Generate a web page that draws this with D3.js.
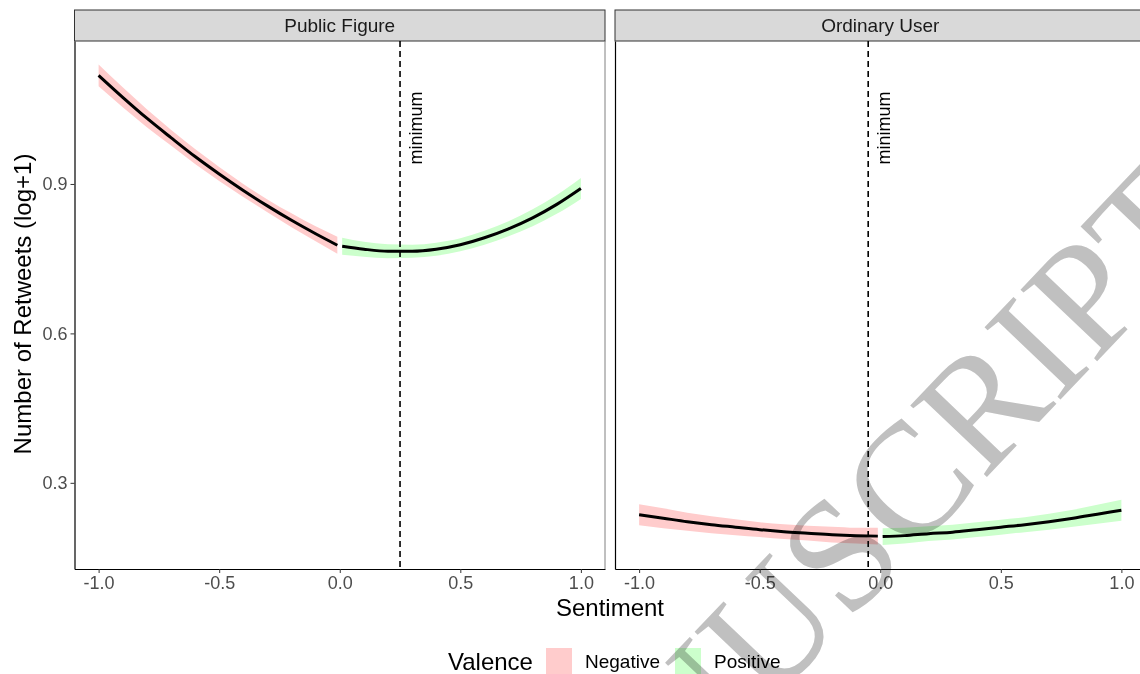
<!DOCTYPE html>
<html>
<head>
<meta charset="utf-8">
<script src="https://cdn.jsdelivr.net/npm/d3@7"></script>
<style>
  body { margin: 0; background: #fff; }
  svg { display: block; font-family: 'Liberation Sans', Arial, sans-serif; }
</style>
</head>
<body>
<div id="chart"></div>
<script>
// values
const panels = ['Public Figure', 'Ordinary User'];
const minima = [0.25, -0.05];

const sentimentNeg = [-1, -0.9, -0.8, -0.7, -0.6, -0.5, -0.4, -0.3, -0.2, -0.1, -0.01];
const sentimentPos = [0.01, 0.1, 0.2, 0.3, 0.4, 0.5, 0.6, 0.7, 0.8, 0.9, 1];

const publicNegFit = [1.118, 1.074, 1.032, 0.993, 0.955, 0.92, 0.887, 0.856, 0.827, 0.8, 0.777];
const publicNegBand = [0.022, 0.02, 0.018, 0.016, 0.015, 0.014, 0.013, 0.013, 0.014, 0.015, 0.017];
const publicPosFit = [0.775, 0.769, 0.765, 0.765, 0.769, 0.778, 0.792, 0.81, 0.832, 0.859, 0.891];
const publicPosBand = [0.017, 0.015, 0.014, 0.013, 0.013, 0.013, 0.014, 0.015, 0.017, 0.019, 0.021];

const ordinaryNegFit = [0.236, 0.229, 0.222, 0.216, 0.211, 0.206, 0.202, 0.199, 0.196, 0.194, 0.193];
const ordinaryNegBand = [0.021, 0.02, 0.018, 0.017, 0.016, 0.015, 0.015, 0.015, 0.016, 0.016, 0.017];
const ordinaryPosFit = [0.192, 0.194, 0.198, 0.201, 0.206, 0.211, 0.216, 0.222, 0.229, 0.237, 0.245];
const ordinaryPosBand = [0.017, 0.016, 0.015, 0.015, 0.015, 0.015, 0.015, 0.016, 0.017, 0.019, 0.021];

const valence = ['Negative', 'Positive'];
const valenceColors = ['#ffcccc', '#ccffcc'];

const xTicks = [-1, -0.5, 0, 0.5, 1];
const yTicks = [0.3, 0.6, 0.9];

const series = [
  [
    { x: sentimentNeg, fit: publicNegFit, band: publicNegBand, v: 0 },
    { x: sentimentPos, fit: publicPosFit, band: publicPosBand, v: 1 },
  ],
  [
    { x: sentimentNeg, fit: ordinaryNegFit, band: ordinaryNegBand, v: 0 },
    { x: sentimentPos, fit: ordinaryPosFit, band: ordinaryPosBand, v: 1 },
  ],
];

const width = 1140,
  height = 674;
const panelLeft = [74.5, 615],
  panelW = 530.5,
  plotTop = 41,
  plotBottom = 569,
  stripTop = 10;
const plotH = plotBottom - plotTop;

const svg = d3
  .select('#chart')
  .append('svg')
  .attr('width', width)
  .attr('height', height);

const x = d3.scaleLinear().domain([-1.1, 1.1]).range([0, panelW]);
const y = d3.scaleLinear().domain([0.127, 1.187]).range([plotH, 0]);

panels.forEach((name, i) => {
  const g = svg.append('g').attr('transform', `translate(${panelLeft[i]},${plotTop})`);

  // strip
  g.append('rect')
    .attr('x', 0)
    .attr('y', stripTop - plotTop)
    .attr('width', panelW)
    .attr('height', plotTop - stripTop)
    .attr('fill', '#d9d9d9')
    .attr('stroke', '#333')
    .attr('stroke-width', 1);
  g.append('text')
    .attr('x', panelW / 2)
    .attr('y', (stripTop - plotTop) / 2 + 6.5)
    .attr('text-anchor', 'middle')
    .attr('font-size', 19)
    .attr('fill', '#1a1a1a')
    .text(name);

  // right panel edge
  g.append('line')
    .attr('x1', panelW)
    .attr('x2', panelW)
    .attr('y1', 0)
    .attr('y2', plotH)
    .attr('stroke', '#808080')
    .attr('stroke-width', 1);

  // ribbons and fits
  series[i].forEach((s) => {
    const pts = s.x.map((d, k) => ({ x: d, fit: s.fit[k], band: s.band[k] }));
    const area = d3
      .area()
      .curve(d3.curveMonotoneX)
      .x((d) => x(d.x))
      .y0((d) => y(d.fit - d.band))
      .y1((d) => y(d.fit + d.band));
    g.append('path').attr('d', area(pts)).attr('fill', valenceColors[s.v]);
  });
  series[i].forEach((s) => {
    const pts = s.x.map((d, k) => ({ x: d, fit: s.fit[k] }));
    const line = d3
      .line()
      .curve(d3.curveMonotoneX)
      .x((d) => x(d.x))
      .y((d) => y(d.fit));
    g.append('path')
      .attr('d', line(pts))
      .attr('fill', 'none')
      .attr('stroke', '#000')
      .attr('stroke-width', 3);
  });

  // minimum marker
  g.append('line')
    .attr('x1', x(minima[i]))
    .attr('x2', x(minima[i]))
    .attr('y1', 0)
    .attr('y2', plotH)
    .attr('stroke', '#000')
    .attr('stroke-width', 1.6)
    .attr('stroke-dasharray', '6,4');
  g.append('text')
    .attr('transform', `translate(${x(minima[i]) + 22},${87}) rotate(-90)`)
    .attr('text-anchor', 'middle')
    .attr('font-size', 18)
    .attr('fill', '#000')
    .text('minimum');

  // x axis
  const xa = g
    .append('g')
    .attr('transform', `translate(0,${plotH})`)
    .call(d3.axisBottom(x).tickValues(xTicks).tickSize(4).tickSizeOuter(0));
  xa.select('.domain').attr('stroke', '#000').attr('stroke-width', 1.2);
  xa.selectAll('.tick line').attr('stroke', '#333');
  xa.selectAll('.tick text')
    .attr('font-size', 18)
    .attr('fill', '#4d4d4d')
    .attr('font-family', 'Liberation Sans, Arial, sans-serif')
    .text((d) => d3.format('.1f')(d).replace('−', '-'));

  // y axis line (ticks on first panel only)
  const ya = g.append('g').call(
    d3
      .axisLeft(y)
      .tickValues(i === 0 ? yTicks : [])
      .tickSize(4)
      .tickSizeOuter(0)
      .tickFormat(d3.format('.1f'))
  );
  ya.select('.domain').attr('stroke', '#000').attr('stroke-width', 1.2);
  ya.selectAll('.tick line').attr('stroke', '#333');
  ya.selectAll('.tick text')
    .attr('font-size', 18)
    .attr('fill', '#4d4d4d')
    .attr('font-family', 'Liberation Sans, Arial, sans-serif');
});

// axis titles
svg
  .append('text')
  .attr('x', 610)
  .attr('y', 616)
  .attr('text-anchor', 'middle')
  .attr('font-size', 24)
  .attr('fill', '#000')
  .text('Sentiment');
svg
  .append('text')
  .attr('transform', `translate(31,304) rotate(-90)`)
  .attr('text-anchor', 'middle')
  .attr('font-size', 24)
  .attr('fill', '#000')
  .text('Number of Retweets (log+1)');

// legend
const legend = svg.append('g');
legend
  .append('text')
  .attr('x', 448)
  .attr('y', 670)
  .attr('font-size', 24)
  .attr('fill', '#000')
  .text('Valence');
const keyX = [546, 675];
valence.forEach((v, i) => {
  legend
    .append('rect')
    .attr('x', keyX[i])
    .attr('y', 648)
    .attr('width', 26)
    .attr('height', 28)
    .attr('fill', valenceColors[i]);
  legend
    .append('text')
    .attr('x', keyX[i] + 39)
    .attr('y', 668)
    .attr('font-size', 19)
    .attr('fill', '#000')
    .text(v);
});

// watermark of the source pdf
svg
  .append('text')
  .attr('transform', 'translate(1222,230) rotate(-46.4)')
  .attr('text-anchor', 'end')
  .attr('font-family', 'Liberation Serif, Times New Roman, serif')
  .attr('font-size', 160)
  .attr('fill', '#c0c0c0')
  .style('mix-blend-mode', 'multiply')
  .text('ACCEPTED MANUSCRIPT');
</script>
</body>
</html>
